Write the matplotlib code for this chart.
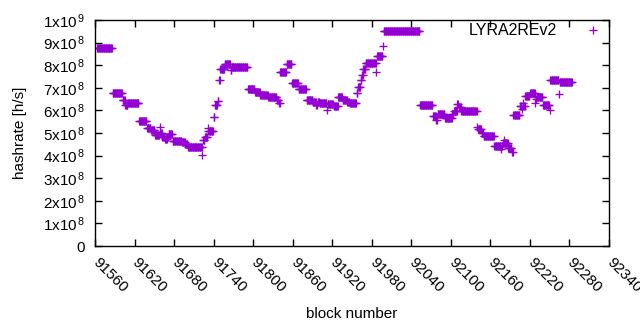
import matplotlib.pyplot as plt
import numpy as np
from matplotlib.ticker import FuncFormatter, MultipleLocator

plt.rcParams['font.family'] = ['Liberation Sans', 'DejaVu Sans']
plt.rcParams['mathtext.fontset'] = 'custom'
plt.rcParams['mathtext.rm'] = 'Liberation Sans'
plt.rcParams['mathtext.it'] = 'Liberation Sans'

# hashrate per block, read off the picture as runs of equal value
# (value in units of 1e8 h/s, number of consecutive blocks)
first_block = 91563
run_values = [8.78, 6.75, 6.46, 6.22, 6.31, 5.53, 5.20, 5.15, 4.91, 5.25,
              4.99, 4.84, 4.74, 4.84, 4.95, 4.66, 4.59, 4.50, 4.40, 4.03,
              4.69, 4.81, 5.20, 5.07, 5.69, 6.24, 6.43, 7.35, 7.83, 8.04,
              7.79, 7.93, 6.95, 6.80, 6.68, 6.60, 6.46, 6.34, 7.71, 8.05,
              7.23, 6.93, 6.46, 6.38, 6.24, 6.38, 6.34, 6.02, 6.28, 6.19,
              6.60, 6.46, 6.38, 6.31, 6.75, 7.05, 7.35, 7.57, 7.82, 8.08,
              7.71, 8.41, 8.85, 9.51, 6.24, 5.75, 5.56, 5.83, 5.67, 5.85,
              5.99, 6.29, 6.14, 5.99, 5.25, 5.16, 4.99, 4.87, 4.44, 4.28,
              4.44, 4.54, 4.69, 4.54, 4.35, 4.15, 5.80, 6.19, 6.05, 6.34,
              6.19, 6.64, 6.76, 6.34, 6.49, 6.58, 6.24, 6.02, 7.35, 6.71,
              7.24]
run_lengths = [24, 15, 4, 4, 17, 12, 6, 6, 7, 1,
               3, 4, 4, 2, 6, 14, 5, 4, 22, 1,
               3, 4, 1, 8, 2, 4, 2, 2, 7, 9,
               2, 24, 11, 8, 12, 13, 3, 2, 10, 8,
               10, 12, 10, 5, 2, 3, 11, 1, 9, 7,
               7, 7, 4, 10, 2, 4, 2, 2, 4, 16,
               1, 9, 1, 55, 20, 5, 2, 11, 11, 3,
               5, 2, 4, 24, 1, 6, 3, 16, 10, 1,
               2, 1, 1, 6, 6, 2, 10, 3, 1, 1,
               3, 7, 8, 1, 1, 10, 10, 1, 13, 1,
               20]

blocks = first_block + np.arange(sum(run_lengths))
hashrate = np.repeat(run_values, run_lengths) * 1e8


def ytick_fmt(v, pos):
    n = int(round(v / 1e8))
    if n == 0:
        return '0'
    if n == 10:
        return r'1x10$^{\,9}$'
    return r'%dx10$^{\,8}$' % n


fs = 11
fig = plt.figure(figsize=(6.4, 3.3), dpi=100)
ax = fig.add_axes([95 / 640, 1 - 246 / 330, 514 / 640, 226 / 330])

ax.plot(blocks, hashrate, '+', color='#9400d3', ms=5.3, mew=0.95,
        label='LYRA2REv2')

ax.set_xlim(91560, 92340)
ax.set_ylim(0, 1e9)
ax.xaxis.set_major_locator(MultipleLocator(60))
ax.yaxis.set_major_locator(MultipleLocator(1e8))
ax.yaxis.set_major_formatter(FuncFormatter(ytick_fmt))

ax.tick_params(direction='in', top=True, right=True, length=5, width=1,
               labelsize=fs)
ax.tick_params(axis='y', pad=7)
ax.tick_params(axis='x', pad=10)
for lab in ax.get_xticklabels():
    lab.set_rotation(-45)
    lab.set_rotation_mode('anchor')
    lab.set_ha('left')
    lab.set_va('center')
for s in ax.spines.values():
    s.set_linewidth(1)

ax.set_xlabel('block number', fontsize=fs)
ax.set_ylabel('hashrate [h/s]', fontsize=fs)
ax.xaxis.set_label_coords(0.5, -0.27)
ax.yaxis.set_label_coords(-0.132, 0.5)

ax.legend(loc='upper right', bbox_to_anchor=(1.016, 0.985), frameon=False,
          markerfirst=False, handlelength=3, handletextpad=0.8,
          borderaxespad=0, borderpad=0, fontsize=11.5, numpoints=1)

fig.savefig('out.png', dpi=100)
